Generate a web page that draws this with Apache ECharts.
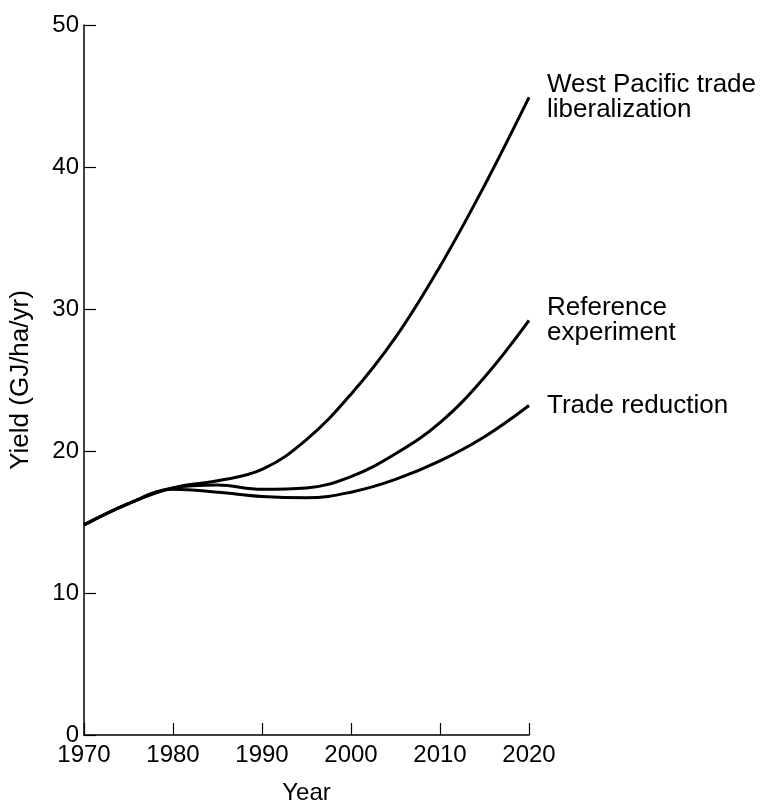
<!DOCTYPE html>
<html>
<head>
<meta charset="utf-8">
<script src="https://cdn.jsdelivr.net/npm/echarts@6/dist/echarts.min.js"></script>
<style>
html,body{margin:0;padding:0;background:#fff;}
#chart{width:767px;height:810px;}
</style>
</head>
<body>
<div id="chart"></div>
<script>
const years = [1970, 1975, 1980, 1985, 1990, 1995, 2000, 2005, 2010, 2015, 2020];
const westPacific = [14.8, 16.3, 17.4, 17.9, 18.7, 20.8, 24.0, 28.0, 33.0, 38.7, 44.9];
const reference   = [14.8, 16.3, 17.4, 17.6, 17.3, 17.4, 18.2, 19.8, 22.0, 25.2, 29.2];
const tradeRed    = [14.8, 16.3, 17.3, 17.1, 16.8, 16.7, 17.1, 18.0, 19.3, 21.0, 23.2];
const seriesNames = ['West Pacific trade\nliberalization', 'Reference\nexperiment', 'Trade reduction'];
const xTicks = [1970, 1980, 1990, 2000, 2010, 2020];
const yTicks = [0, 10, 20, 30, 40, 50];

const FONT = 'Liberation Sans';
const chart = echarts.init(document.getElementById('chart'));
function mk(name, vals) {
  return {
    name: name,
    type: 'line',
    smooth: 0.4,
    symbol: 'none',
    data: years.map((y, i) => [y, vals[i]]),
    lineStyle: { color: '#000', width: 3 },
    endLabel: {
      show: true,
      formatter: name,
      color: '#000',
      fontFamily: FONT,
      fontSize: 26,
      lineHeight: 25,
      offset: [10, 0],
      align: 'left'
    }
  };
}
chart.setOption({
  animation: false,
  backgroundColor: '#fff',
  grid: { left: 83, right: 238, top: 25, bottom: 69 },
  xAxis: {
    type: 'value', min: 1970, max: 2020, interval: 10,
    name: 'Year', nameLocation: 'middle', nameGap: 46,
    nameTextStyle: { color: '#000', fontFamily: FONT, fontSize: 24 },
    axisLine: { lineStyle: { color: '#000', width: 1.5 } },
    axisTick: { inside: true, length: 12, lineStyle: { color: '#000', width: 1.2 } },
    axisLabel: { color: '#000', fontFamily: FONT, fontSize: 24, margin: 8,
      formatter: v => xTicks.includes(v) ? String(v) : '' },
    splitLine: { show: false }
  },
  yAxis: {
    type: 'value', min: 0, max: 50, interval: 10,
    name: 'Yield (GJ/ha/yr)', nameLocation: 'middle', nameGap: 50, nameRotate: 90,
    nameTextStyle: { color: '#000', fontFamily: FONT, fontSize: 26 },
    axisLine: { show: true, lineStyle: { color: '#000', width: 1.5 } },
    axisTick: { show: true, inside: true, length: 12, lineStyle: { color: '#000', width: 1.2 } },
    axisLabel: { color: '#000', fontFamily: FONT, fontSize: 24, margin: 5,
      formatter: v => yTicks.includes(v) ? String(v) : '' },
    splitLine: { show: false }
  },
  series: [
    mk(seriesNames[0], westPacific),
    mk(seriesNames[1], reference),
    mk(seriesNames[2], tradeRed)
  ]
});
</script>
</body>
</html>
